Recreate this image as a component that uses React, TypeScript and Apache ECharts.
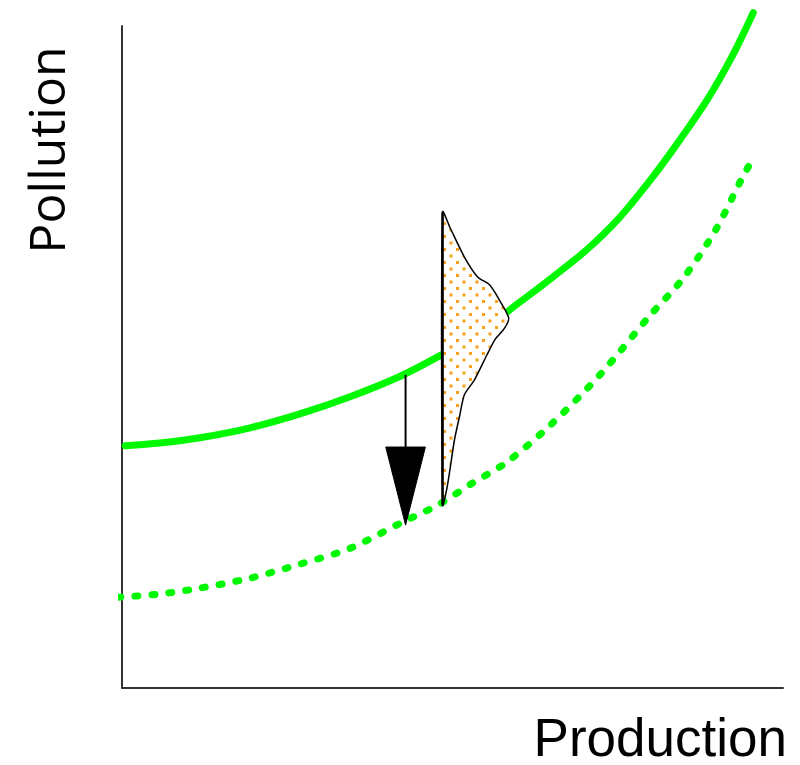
import React, { useEffect, useRef } from "react";
import * as echarts from "echarts";

// Current pollution curve (solid)
const currentX = [0.05, 0.57, 1.18, 1.94, 2.69, 3.45, 4.21, 4.81, 5.42, 6.02, 6.52, 7.03, 7.53, 8.03, 8.44, 8.85, 9.24, 9.55];
const currentY = [3.66, 3.70, 3.78, 3.93, 4.14, 4.40, 4.71, 5.02, 5.38, 5.83, 6.21, 6.62, 7.11, 7.72, 8.28, 8.88, 9.56, 10.2];

// Improved pollution curve (dotted)
const improvedX = [-0.06, 0.57, 1.18, 1.94, 2.69, 3.45, 4.25, 4.77, 5.31, 5.82, 6.48, 7.23, 7.99, 8.49, 8.97, 9.39, 9.52];
const improvedY = [1.37, 1.42, 1.51, 1.66, 1.87, 2.11, 2.51, 2.76, 3.10, 3.41, 3.97, 4.73, 5.63, 6.19, 6.90, 7.72, 7.95];

// Arrow (shaft top, head top, tip) at production level arrowX
const arrowX = 4.29;
const arrowLevels = [4.73, 3.64, 2.46];
const arrowHalfWidth = 0.3;

// Distribution of pollution outcomes at production level distBaseX
const distBaseX = 4.85;
const distLevels = [7.19, 6.96, 6.51, 6.21, 6.09, 5.86, 5.59, 5.44, 5.26, 5.03, 4.65, 4.43, 4.12, 3.75, 3.29, 2.99, 2.76];
const distWidths = [0, 0.11, 0.33, 0.53, 0.71, 0.86, 1.0, 0.94, 0.79, 0.67, 0.48, 0.33, 0.26, 0.18, 0.11, 0.06, 0];

const GREEN = "#00f800";

function makeDotPattern() {
  const c = document.createElement("canvas");
  c.width = 13;
  c.height = 13;
  const ctx = c.getContext("2d")!;
  ctx.fillStyle = "#ffffff";
  ctx.fillRect(0, 0, 13, 13);
  ctx.fillStyle = "#f7a11a";
  ctx.fillRect(1, 1, 3, 3);
  ctx.fillRect(7.5, 7.5, 3, 3);
  return c;
}

export default function App() {
  const ref = useRef<HTMLDivElement>(null);
  useEffect(() => {
    if (!ref.current) return;
    const chart = echarts.init(ref.current, undefined, { renderer: "svg" });
    const pattern = makeDotPattern();
    const axisCommon = {
      type: "value" as const,
      min: 0,
      max: 10,
      axisLine: { show: true, onZero: false, lineStyle: { color: "#333", width: 2 } },
      axisTick: { show: false },
      axisLabel: { show: false },
      splitLine: { show: false },
    };
    chart.setOption({
      animation: false,
      grid: { left: 122, right: 17, top: 26, bottom: 77 },
      xAxis: axisCommon,
      yAxis: axisCommon,
      series: [
        {
          type: "line",
          data: currentX.map((x, i) => [x, currentY[i]]),
          smooth: 0.3,
          showSymbol: false,
          clip: false,
          lineStyle: { color: GREEN, width: 7, cap: "round" },
          z: 2,
        },
        {
          type: "line",
          data: improvedX.map((x, i) => [x, improvedY[i]]),
          smooth: 0.3,
          showSymbol: false,
          clip: false,
          lineStyle: { color: GREEN, width: 7, type: [3, 14], cap: "round" },
          z: 2,
        },
        {
          type: "custom",
          clip: false,
          z: 5,
          data: [[arrowX, arrowLevels[0]]],
          renderItem: (_p: any, api: any) => {
            const top = api.coord([arrowX, arrowLevels[0]]);
            const headTop = api.coord([arrowX, arrowLevels[1]]);
            const tip = api.coord([arrowX, arrowLevels[2]]);
            const hl = api.coord([arrowX - arrowHalfWidth, arrowLevels[1]]);
            const hr = api.coord([arrowX + arrowHalfWidth, arrowLevels[1]]);
            return {
              type: "group",
              children: [
                {
                  type: "line",
                  shape: { x1: top[0], y1: top[1], x2: headTop[0], y2: headTop[1] },
                  style: { stroke: "#000", lineWidth: 2 },
                },
                {
                  type: "polygon",
                  shape: { points: [hl, hr, tip] },
                  style: { fill: "#000", stroke: "#000", lineWidth: 1 },
                },
              ],
            };
          },
        },
        {
          type: "custom",
          clip: false,
          z: 6,
          data: [[distBaseX, distLevels[0]]],
          renderItem: (_p: any, api: any) => {
            const pts = distLevels.map((y, i) => api.coord([distBaseX + distWidths[i], y]));
            const top = api.coord([distBaseX, distLevels[0]]);
            const bot = api.coord([distBaseX, distLevels[distLevels.length - 1]]);
            return {
              type: "group",
              children: [
                {
                  type: "polygon",
                  shape: { points: pts, smooth: 0.25 },
                  style: {
                    fill: { image: pattern, repeat: "repeat", imageWidth: 13, imageHeight: 13 },
                    stroke: "#000",
                    lineWidth: 1.5,
                  },
                },
                {
                  type: "line",
                  shape: { x1: top[0], y1: top[1], x2: bot[0], y2: bot[1] },
                  style: { stroke: "#000", lineWidth: 2.5 },
                },
              ],
            };
          },
        },
      ],
      graphic: [
        {
          type: "text",
          x: 46,
          y: 150,
          rotation: Math.PI / 2,
          style: {
            text: "Pollution",
            font: '50px "Open Sans"',
            fill: "#000",
            align: "center",
            verticalAlign: "middle",
          },
        },
        {
          type: "text",
          x: 787,
          y: 737,
          style: {
            text: "Production",
            font: '53px "Liberation Sans"',
            fill: "#000",
            align: "right",
            verticalAlign: "middle",
          },
        },
      ],
    });
    return () => chart.dispose();
  }, []);
  return <div ref={ref} style={{ position: "fixed", left: 0, top: 0, width: 800, height: 765 }} />;
}
